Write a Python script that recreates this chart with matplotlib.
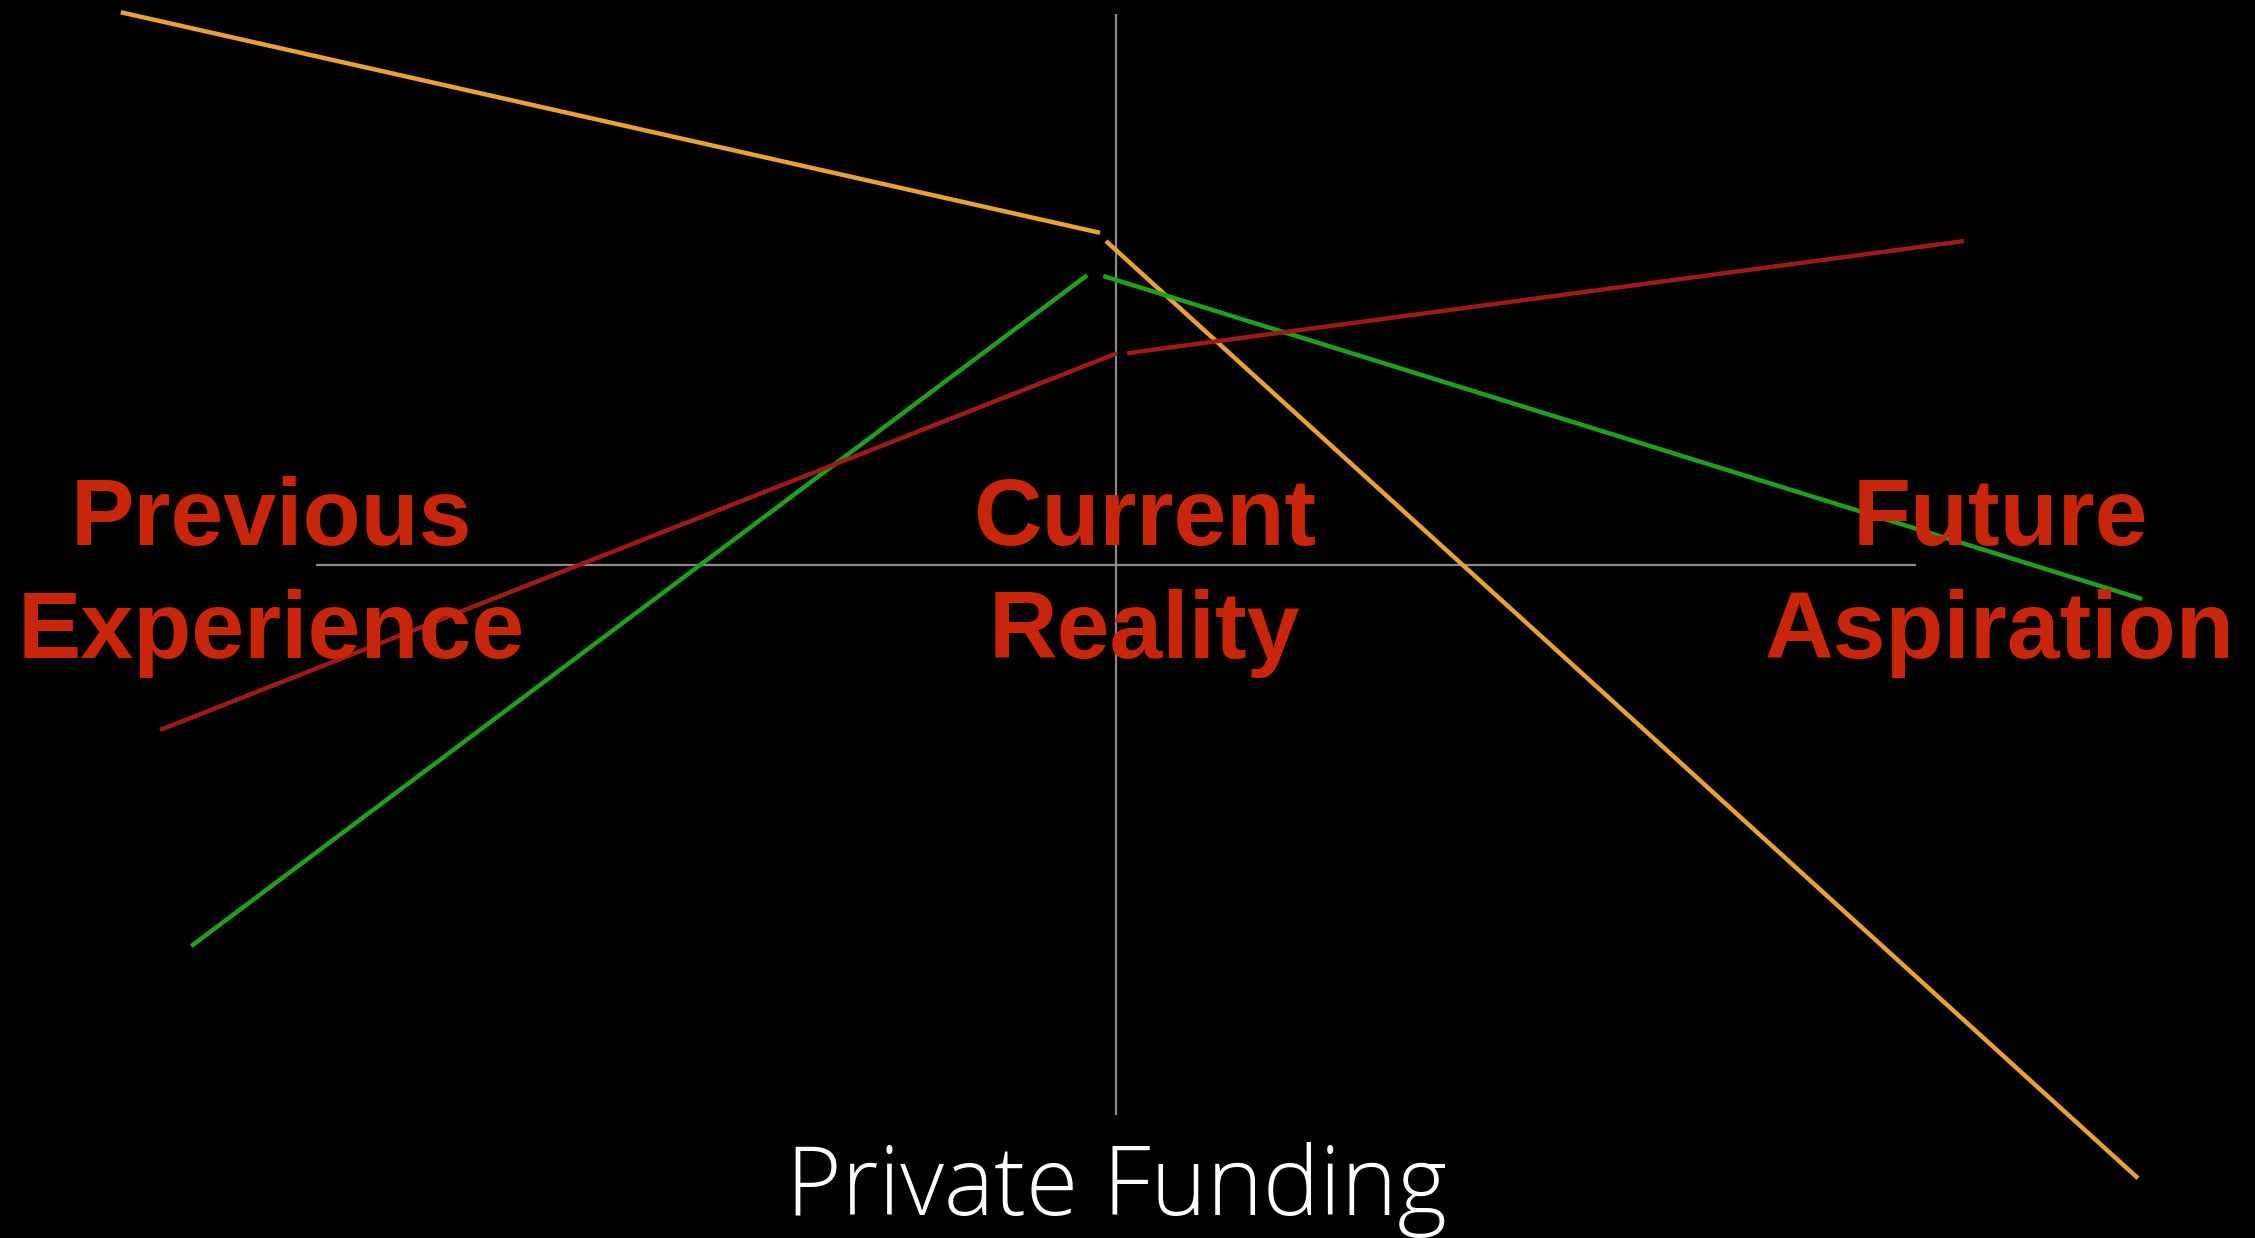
import matplotlib
matplotlib.use("Agg")
import matplotlib.pyplot as plt

# Conceptual coordinates: x -1 (previous) .. 0 (current) .. 1 (future); y -1..1
stage_labels = [["Previous", "Experience"], ["Current", "Reality"], ["Future", "Aspiration"]]
stage_x = [-1.056, 0.036, 1.105]
line_y = [0.036, -0.169]
axis_title = "Private Funding"

# Each series: two segments (past->current, current->future)
orange_seg1_x = [-1.244, -0.020]
orange_seg1_y = [1.005, 0.604]
orange_seg2_x = [-0.0125, 1.2775]
orange_seg2_y = [0.589, -1.115]

green_seg1_x = [-1.156, -0.036]
green_seg1_y = [-0.693, 0.527]
green_seg2_x = [-0.016, 1.2825]
green_seg2_y = [0.5255, -0.0618]

red_seg1_x = [-1.195, 0.001]
red_seg1_y = [-0.300, 0.385]
red_seg2_x = [0.0138, 1.060]
red_seg2_y = [0.385, 0.589]

fig = plt.figure(figsize=(22.55, 12.38), dpi=100, facecolor="black")
ax = fig.add_axes([0, 0, 1, 1])
ax.set_facecolor("black")
ax.set_xlim(-1116 / 800, (2255 - 1116) / 800)
ax.set_ylim((565 - 1238) / 550, 565 / 550)
ax.axis("off")

# axes cross
ax.plot([-1, 1], [0, 0], color="#8a8a8a", lw=1.6, solid_capstyle="butt")
ax.plot([0, 0], [-1.0, 1.0018], color="#8a8a8a", lw=1.6, solid_capstyle="butt")

orange = "#E9A22F"
green = "#1CA11C"
red = "#9E1A17"
lw = 3.2
for xs, ys, c in [
    (orange_seg1_x, orange_seg1_y, orange), (orange_seg2_x, orange_seg2_y, orange),
    (green_seg1_x, green_seg1_y, green), (green_seg2_x, green_seg2_y, green),
    (red_seg1_x, red_seg1_y, red), (red_seg2_x, red_seg2_y, red),
]:
    ax.plot(xs, ys, color=c, lw=lw, solid_capstyle="butt")

label_color = "#C8250A"
for lines, x in zip(stage_labels, stage_x):
    for txt, y in zip(lines, line_y):
        ax.text(x, y, txt, ha="center", va="baseline", color=label_color,
                fontsize=68.4, fontweight="bold", family=["Liberation Sans", "DejaVu Sans"])

ax.text(0.001, -1.1818, axis_title, ha="center", va="baseline", color="white",
        fontsize=68.5, fontweight="light", family=["Open Sans", "DejaVu Sans"])

fig.savefig("out.png", dpi=100, facecolor="black")
